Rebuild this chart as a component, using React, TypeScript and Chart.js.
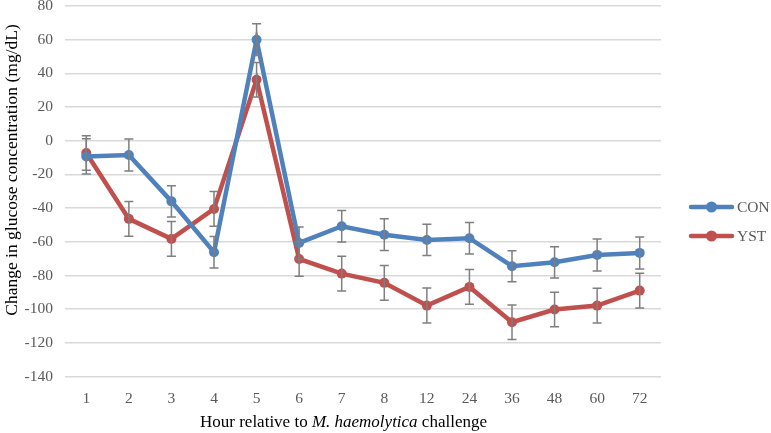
import React, { useEffect, useRef } from "react";
import { Chart, registerables } from "chart.js";

Chart.register(...registerables);

const categories = ["1", "2", "3", "4", "5", "6", "7", "8", "12", "24", "36", "48", "60", "72"];
const conValues = [-9.3, -8.5, -36, -66.2, 60, -60.7, -50.8, -55.8, -58.9, -57.9, -74.5, -72.2, -67.8, -66.6];
const ystValues = [-7.3, -46.4, -58.3, -40.5, 36.2, -70.2, -78.9, -84.4, -97.9, -86.8, -107.8, -100.2, -97.9, -89];
const conErrors = [10.5, 9.5, 9.3, 9.3, 9.4, 9.5, 9.4, 9.4, 9.3, 9.3, 9.2, 9.3, 9.5, 9.5];
const ystErrors = [10.3, 10.3, 10.3, 10.3, 10.3, 10.3, 10.3, 10.3, 10.4, 10.3, 10.2, 10.3, 10.3, 10.3];
const seriesNames = ["CON", "YST"];
const yTitle = "Change in glucose concentration (mg/dL)";
const xTitleParts = [
  { text: "Hour relative to ", italic: false },
  { text: "M. haemolytica", italic: true },
  { text: " challenge", italic: false },
];

const FONT = '"Liberation Serif", "Times New Roman", serif';
const BLUE = "#4F81BD";
const RED = "#C0504D";

const errorBarPlugin = {
  id: "errorBars",
  afterDatasetsDraw(chart: any) {
    const ctx = chart.ctx;
    const yScale = chart.scales.y;
    const errs = [conErrors, ystErrors];
    ctx.save();
    ctx.strokeStyle = "#7F7F7F";
    ctx.lineWidth = 1.5;
    chart.data.datasets.forEach((ds: any, di: number) => {
      const meta = chart.getDatasetMeta(di);
      meta.data.forEach((pt: any, i: number) => {
        const v = ds.data[i];
        const e = errs[di][i];
        const x = pt.x;
        const yt = yScale.getPixelForValue(v + e);
        const yb = yScale.getPixelForValue(v - e);
        ctx.beginPath();
        ctx.moveTo(x, yt);
        ctx.lineTo(x, yb);
        ctx.moveTo(x - 4.5, yt);
        ctx.lineTo(x + 4.5, yt);
        ctx.moveTo(x - 4.5, yb);
        ctx.lineTo(x + 4.5, yb);
        ctx.stroke();
      });
    });
    ctx.restore();
  },
};

const decorPlugin = {
  id: "decor",
  afterDraw(chart: any) {
    const ctx = chart.ctx;
    ctx.save();
    // y title
    ctx.fillStyle = "#000000";
    ctx.font = `17.5px ${FONT}`;
    ctx.textAlign = "center";
    ctx.textBaseline = "middle";
    ctx.translate(12, 170);
    ctx.rotate(-Math.PI / 2);
    ctx.fillText(yTitle, 0, 0);
    ctx.restore();

    // x title
    ctx.save();
    ctx.fillStyle = "#000000";
    ctx.textBaseline = "middle";
    let total = 0;
    const widths = xTitleParts.map((p) => {
      ctx.font = `${p.italic ? "italic " : ""}17px ${FONT}`;
      const w = ctx.measureText(p.text).width;
      total += w;
      return w;
    });
    let x = 343.5 - total / 2;
    const y = 423;
    xTitleParts.forEach((p, i) => {
      ctx.font = `${p.italic ? "italic " : ""}17px ${FONT}`;
      ctx.textAlign = "left";
      ctx.fillText(p.text, x, y);
      x += widths[i];
    });
    ctx.restore();

    // legend
    ctx.save();
    const colors = [BLUE, RED];
    const ys = [207, 236];
    seriesNames.forEach((name, i) => {
      const ly = ys[i];
      ctx.strokeStyle = colors[i];
      ctx.lineWidth = 4.5;
      ctx.lineCap = "round";
      ctx.beginPath();
      ctx.moveTo(691, ly);
      ctx.lineTo(732, ly);
      ctx.stroke();
      ctx.fillStyle = colors[i];
      ctx.beginPath();
      ctx.arc(711.5, ly, 5.5, 0, Math.PI * 2);
      ctx.fill();
      ctx.fillStyle = "#595959";
      ctx.font = `15.5px ${FONT}`;
      ctx.textAlign = "left";
      ctx.textBaseline = "middle";
      ctx.fillText(name, 737, ly + 0.5);
    });
    ctx.restore();
  },
};

export default function App() {
  const ref = useRef<HTMLCanvasElement>(null);
  useEffect(() => {
    if (!ref.current) return;
    const chart = new Chart(ref.current, {
      type: "line",
      data: {
        labels: categories,
        datasets: [
          {
            label: seriesNames[0],
            data: conValues,
            borderColor: BLUE,
            backgroundColor: BLUE,
            borderWidth: 4.5,
            pointRadius: 5,
            pointBorderWidth: 0,
            pointBackgroundColor: BLUE,
            tension: 0,
          },
          {
            label: seriesNames[1],
            data: ystValues,
            borderColor: RED,
            backgroundColor: RED,
            borderWidth: 4.5,
            pointRadius: 5,
            pointBorderWidth: 0,
            pointBackgroundColor: RED,
            tension: 0,
          },
        ],
      },
      options: {
        animation: false,
        responsive: false,
        maintainAspectRatio: false,
        layout: { padding: { top: 6, right: 110, bottom: 0, left: 0 } },
        plugins: {
          legend: { display: false },
          tooltip: { enabled: false },
        },
        scales: {
          x: {
            offset: true,
            grid: { display: false, drawTicks: false },
            border: { display: false },
            ticks: {
              color: "#595959",
              font: { family: FONT, size: 15.5 },
              padding: 13,
              maxRotation: 0,
              autoSkip: false,
            },
            afterFit: (s: any) => {
              s.height = 56.5;
              s.paddingLeft = 0;
              s.paddingRight = 0;
            },
          },
          y: {
            min: -140,
            max: 80,
            ticks: {
              stepSize: 20,
              color: "#595959",
              font: { family: FONT, size: 15.5 },
              padding: 12,
            },
            grid: { color: "#D9D9D9", lineWidth: 1.5, drawTicks: false },
            border: { display: false },
            afterFit: (s: any) => {
              s.width = 65;
              s.paddingTop = 0;
              s.paddingBottom = 0;
            },
          },
        },
      },
      plugins: [errorBarPlugin, decorPlugin],
    });
    return () => chart.destroy();
  }, []);
  return (
    <div style={{ position: "absolute", left: 0, top: 0, width: 771, height: 433, background: "#fff" }}>
      <canvas ref={ref} width={771} height={433} style={{ width: 771, height: 433 }} />
    </div>
  );
}
